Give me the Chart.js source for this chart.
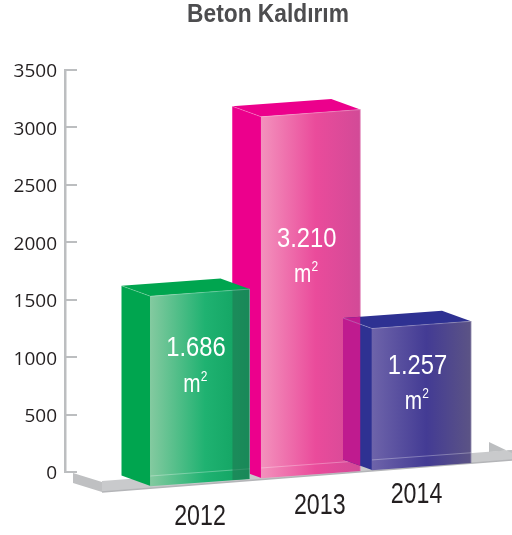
<!DOCTYPE html>
<html>
<head>
<meta charset="utf-8">
<title>Beton Kaldırım</title>
<script src="https://cdn.jsdelivr.net/npm/chart.js@4"></script>
<style>
    html, body { margin: 0; padding: 0; background: #fff; }
    canvas { display: block; }
</style>
</head>
<body>
<canvas id="betonChart" width="512" height="535"></canvas>
<script>
const titleText = 'Beton Kaldırım';
const years = [2012, 2013, 2014];
const values = [1686, 3210, 1257];
const valueLabels = ['1.686', '3.210', '1.257'];
const unitLabel = 'm';
const yMax = 3500;
const yStep = 500;

const fontName = '"Liberation Sans", sans-serif';
const axisColor = '#bcbec0';
const textColor = '#231f20';

// renk ve kaydırma ayarları
const sideColors = ['#00a54f', '#ec008c', '#2e3192'];
const frontStops = [
    ['#84caa0', '#1fb271', '#0fa05f'],
    ['#f392bd', '#ea4b9b', '#d24a97'],
    ['#6e64aa', '#433b94', '#5c5485']
];
const drawOrder = [2, 3, 1];
const labelDrop = [56, 126, 41];
const yearShift = [[0, 35], [9, 32], [-5, 29]];
const shear = -0.0725;
const shearOffset = 24.9;
const depthX = -29;
const depthY = -10.5;

// ekran koordinatı: kaydırılmış zemine göre
const sheared = (x, y) => [x, y + shear * x + shearOffset];

function poly(ctx, pts, color) {
    ctx.beginPath();
    pts.forEach((p, i) => i ? ctx.lineTo(p[0], p[1]) : ctx.moveTo(p[0], p[1]));
    ctx.closePath();
    ctx.fillStyle = color;
    ctx.fill();
}

// dar yazı tipi yok, metni yatayda sıkıştırıyoruz
function narrowText(ctx, text, x, y, font, squeeze) {
    ctx.save();
    ctx.translate(x, y);
    ctx.scale(squeeze, 1);
    ctx.font = font;
    ctx.fillText(text, 0, 0);
    ctx.restore();
}

function barBox(bar) {
    const left = bar.x - bar.width / 2;
    const right = bar.x + bar.width / 2;
    return {
        left, right,
        fl: sheared(left, bar.y), fr: sheared(right, bar.y),
        bl: sheared(left, bar.base), br: sheared(right, bar.base)
    };
}

const back = p => [p[0] + depthX, p[1] + depthY];

const floorPlugin = {
    id: 'floor',
    beforeDatasetsDraw(chart) {
        const ctx = chart.ctx;
        const l = chart.chartArea.left;
        const b = chart.chartArea.bottom;
        poly(ctx, [[l + 8, b + 1], [l + 37, b + 10], [l + 37, b + 20], [l + 8, b + 11]], '#bfc0c2');
        poly(ctx, [[l + 37, b + 9], [512, b - 22], [512, b - 12], [l + 37, b + 20]], '#c9cacc');
        ctx.beginPath();
        ctx.moveTo(l + 37, b + 20);
        ctx.lineTo(512, b - 12);
        ctx.strokeStyle = '#b4b5b8';
        ctx.lineWidth = 1.5;
        ctx.stroke();
        poly(ctx, [[489, b - 30], [512, b - 19], [512, b - 22], [489, b - 20]], '#bcbec0');
    }
};

const boxPlugin = {
    id: 'box',
    beforeDatasetDraw(chart, args) {
        const ctx = chart.ctx;
        const i = args.index;
        const box = barBox(args.meta.data[0]);
        const side = [box.fl, back(box.fl), back(box.bl), box.bl];
        const top = [box.fl, back(box.fl), back(box.fr), box.fr];
        poly(ctx, side, sideColors[i]);
        poly(ctx, top, sideColors[i]);

        // mavi kutunun pembe sütunla kesişen kısmı
        if (i === 2) {
            const pink = chart.getDatasetMeta(1).data[0];
            ctx.save();
            ctx.beginPath();
            ctx.rect(0, 0, pink.x + pink.width / 2, chart.height);
            ctx.clip();
            poly(ctx, side, '#bf1b8f');
            poly(ctx, top, '#bf1b8f');
            ctx.restore();
        }

        ctx.beginPath();
        ctx.moveTo(box.fl[0], box.fl[1]);
        ctx.lineTo(back(box.fl)[0], back(box.fl)[1]);
        ctx.strokeStyle = 'rgba(255,255,255,0.3)';
        ctx.lineWidth = 0.8;
        ctx.stroke();

        ctx.save();
        ctx.transform(1, shear, 0, 1, 0, shearOffset);
    },
    afterDatasetDraw(chart, args) {
        const ctx = chart.ctx;
        const i = args.index;
        const bar = args.meta.data[0];
        const box = barBox(bar);
        ctx.restore();

        // içten görünen arka kenar
        const innerY = sheared(box.left, bar.base - 10);
        const innerEnd = sheared(box.right, bar.base - 10);
        ctx.strokeStyle = 'rgba(255,255,255,0.3)';
        ctx.lineWidth = 1;
        ctx.beginPath();
        ctx.moveTo(innerY[0], innerY[1]);
        ctx.lineTo(innerEnd[0], innerEnd[1]);
        ctx.stroke();
        if (i === 0) {
            const panelX = box.right - 17;
            poly(ctx, [sheared(panelX, bar.y), box.fr, box.br, sheared(panelX, bar.base)], 'rgba(30,125,85,0.65)');
        }
        ctx.strokeStyle = 'rgba(255,255,255,0.25)';
        ctx.beginPath();
        ctx.moveTo(box.fl[0], box.fl[1]);
        ctx.lineTo(box.fr[0], box.fr[1]);
        ctx.lineTo(box.br[0], box.br[1]);
        ctx.stroke();
    },
    afterDraw(chart) {
        const ctx = chart.ctx;
        ctx.save();
        ctx.textAlign = 'center';
        ctx.textBaseline = 'middle';

        ctx.fillStyle = '#4d4d4f';
        narrowText(ctx, titleText, 268, 15, 'bold 25px ' + fontName, 0.91);

        years.forEach((year, i) => {
            const bar = chart.getDatasetMeta(i).data[0];
            const top = sheared(bar.x, bar.y);
            const cx = bar.x - 4;
            ctx.fillStyle = '#fff';
            narrowText(ctx, valueLabels[i], cx, top[1] + labelDrop[i], '28px ' + fontName, 0.85);
            const my = top[1] + labelDrop[i] + 36;
            narrowText(ctx, unitLabel, cx - 4, my, '26px ' + fontName, 0.8);
            narrowText(ctx, '2', cx + 8, my - 8, '15px ' + fontName, 0.8);

            const foot = sheared(bar.x, bar.base);
            ctx.fillStyle = textColor;
            narrowText(ctx, String(year), bar.x + yearShift[i][0], foot[1] + yearShift[i][1], '29px ' + fontName, 0.8);
        });
        ctx.restore();
    }
};

function frontGradient(context, i) {
    const chart = context.chart;
    if (!chart.chartArea) return frontStops[i][1];
    const cx = chart.scales.x.getPixelForValue(years[i]);
    const g = chart.ctx.createLinearGradient(cx - 50, 0, cx + 50, 0);
    g.addColorStop(0, frontStops[i][0]);
    g.addColorStop(0.55, frontStops[i][1]);
    g.addColorStop(1, frontStops[i][2]);
    return g;
}

new Chart(document.getElementById('betonChart').getContext('2d'), {
    type: 'bar',
    data: {
        datasets: years.map((year, i) => ({
            label: String(year),
            data: [{ x: year, y: values[i] }],
            order: drawOrder[i],
            yAxisID: 'yBars',
            grouped: false,
            clip: false,
            barThickness: 99,
            borderWidth: 0,
            backgroundColor: ctx => frontGradient(ctx, i)
        }))
    },
    options: {
        responsive: false,
        animation: false,
        layout: { padding: { top: 70, bottom: 63, right: 0, left: 0 } },
        plugins: {
            legend: { display: false },
            title: { display: false },
            tooltip: { enabled: false }
        },
        scales: {
            x: {
                type: 'linear',
                display: false,
                offset: false,
                min: 2012 - 135 / 110.75,
                max: 2012 + 312 / 110.75
            },
            y: {
                position: 'left',
                min: 0,
                max: yMax,
                afterFit: scale => { scale.width = 65; },
                border: { color: axisColor, width: 2.5 },
                grid: {
                    drawOnChartArea: false,
                    color: axisColor,
                    lineWidth: 2,
                    tickLength: -12
                },
                ticks: {
                    stepSize: yStep,
                    padding: 20,
                    labelOffset: 2,
                    color: textColor,
                    callback: value => String(value),
                    font: { family: '"Open Sans", sans-serif', size: 19 }
                }
            },
            // sütunlar perspektif nedeniyle eksenden biraz kısa
            yBars: {
                display: false,
                min: 0,
                max: 3573
            }
        }
    },
    plugins: [floorPlugin, boxPlugin]
});
</script>
</body>
</html>
